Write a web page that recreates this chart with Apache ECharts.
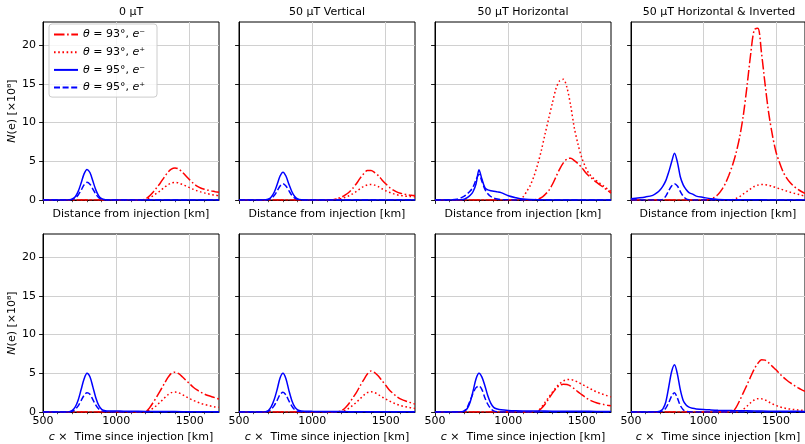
<!DOCTYPE html>
<html>
<head>
<meta charset="utf-8">
<script src="https://cdn.jsdelivr.net/npm/echarts@6/dist/echarts.min.js"></script>
<style>
  html, body { margin: 0; padding: 0; background: #fff; }
  #chart { width: 805px; height: 444px; }
</style>
</head>
<body>
<div id="chart"></div>
<script>
// Sample positions [km]: electron-bunch grid (θ = 95°) and positron/late grid (θ = 93°)
const X_E = [500, 600, 650, 680, 700, 720, 740, 760, 780, 800, 820, 840, 860, 880, 900, 925, 950, 1000, 1050, 1100, 1200, 1300, 1400, 1500, 1600, 1700];
const X_R = [500, 1000, 1025, 1050, 1075, 1100, 1125, 1150, 1175, 1200, 1225, 1250, 1275, 1300, 1325, 1350, 1375, 1400, 1425, 1450, 1475, 1500, 1525, 1550, 1575, 1600, 1625, 1650, 1675, 1700];

// Tick values
const X_TICKS = [500, 1000, 1500];
const Y_TICKS = [0, 5, 10, 15, 20];

// Labels
const NAMES = ['θ = 93°, e⁻', 'θ = 93°, e⁺', 'θ = 95°, e⁻', 'θ = 95°, e⁺'];
const TITLES = ['0 µT', '50 µT Vertical', '50 µT Horizontal', '50 µT Horizontal & Inverted'];

// ---- N(e) [×10^8] vs distance from injection ----
const DIST_ZERO_93E = [0, 0, 0, 0, 0, 0, 0, 0, 0.02, 0.15, 0.5, 1.0, 1.6, 2.2, 2.9, 3.55, 4.0, 4.15, 4.0, 3.6, 3.1, 2.6, 2.15, 1.8, 1.55, 1.4, 1.27, 1.17, 1.08, 1.0];
const DIST_ZERO_93P = [0, 0, 0, 0, 0, 0, 0, 0, 0.01, 0.08, 0.28, 0.55, 0.87, 1.2, 1.6, 1.95, 2.2, 2.28, 2.2, 2.0, 1.8, 1.58, 1.38, 1.2, 1.05, 0.92, 0.8, 0.7, 0.62, 0.55];
const DIST_ZERO_95E = [0, 0, 0, 0.03, 0.13, 0.43, 1.12, 2.2, 3.37, 3.95, 3.55, 2.45, 1.31, 0.53, 0.17, 0.03, 0, 0, 0, 0, 0, 0, 0, 0, 0, 0];
const DIST_ZERO_95P = [0, 0, 0, 0.02, 0.08, 0.25, 0.65, 1.27, 1.95, 2.28, 2.05, 1.42, 0.76, 0.3, 0.1, 0.02, 0, 0, 0, 0, 0, 0, 0, 0, 0, 0];

const DIST_VERT_93E = [0, 0, 0, 0, 0, 0, 0.03, 0.08, 0.2, 0.38, 0.65, 1.0, 1.5, 2.1, 2.8, 3.4, 3.8, 3.8, 3.55, 3.15, 2.6, 2.1, 1.65, 1.3, 1.05, 0.88, 0.77, 0.68, 0.62, 0.58];
const DIST_VERT_93P = [0, 0, 0, 0, 0, 0, 0.02, 0.05, 0.1, 0.2, 0.35, 0.55, 0.8, 1.1, 1.45, 1.75, 1.95, 2.0, 1.92, 1.72, 1.45, 1.2, 1.0, 0.82, 0.68, 0.58, 0.52, 0.47, 0.44, 0.42];
const DIST_VERT_95E = [0, 0, 0, 0.02, 0.1, 0.4, 1.0, 2.0, 3.1, 3.6, 3.1, 2.05, 1.1, 0.45, 0.15, 0.03, 0, 0, 0, 0, 0, 0, 0, 0, 0, 0];
const DIST_VERT_95P = [0, 0, 0, 0.01, 0.06, 0.23, 0.58, 1.16, 1.8, 2.1, 1.8, 1.2, 0.62, 0.25, 0.08, 0.02, 0, 0, 0, 0, 0, 0, 0, 0, 0, 0];

const DIST_HORIZ_93E = [0, 0, 0, 0, 0, 0, 0, 0, 0.03, 0.1, 0.3, 0.7, 1.2, 2.0, 3.0, 4.0, 4.8, 5.3, 5.4, 5.1, 4.7, 4.2, 3.6, 3.1, 2.7, 2.3, 1.95, 1.6, 1.25, 0.9];
const DIST_HORIZ_93P = [0, 0, 0, 0.02, 0.12, 0.4, 1.1, 1.9, 3.1, 4.6, 6.4, 8.5, 10.5, 12.5, 14.4, 15.4, 15.6, 14.5, 12.2, 9.3, 7.2, 5.5, 4.3, 3.4, 2.9, 2.5, 2.15, 1.8, 1.45, 1.1];
const DIST_HORIZ_95E = [0, 0, 0, 0.02, 0.1, 0.3, 0.6, 1.1, 2.1, 3.9, 2.7, 1.6, 1.3, 1.2, 1.12, 1.05, 0.95, 0.55, 0.3, 0.12, 0.02, 0, 0, 0, 0, 0];
const DIST_HORIZ_95P = [0, 0.02, 0.1, 0.3, 0.5, 0.8, 1.15, 1.7, 2.6, 3.3, 2.4, 1.4, 0.8, 0.45, 0.25, 0.12, 0.06, 0.02, 0, 0, 0, 0, 0, 0, 0, 0];

const DIST_INV_93E = [0, 0, 0.02, 0.15, 0.35, 0.7, 1.3, 2.1, 3.2, 4.5, 6.1, 8.2, 11.0, 14.7, 18.8, 22.0, 22.2, 19.0, 14.9, 11.2, 8.4, 6.2, 4.8, 3.6, 2.8, 2.2, 1.75, 1.4, 1.1, 0.85];
const DIST_INV_93P = [0, 0, 0, 0, 0, 0, 0, 0, 0, 0.05, 0.2, 0.45, 0.8, 1.1, 1.45, 1.75, 1.92, 2.0, 1.98, 1.9, 1.75, 1.6, 1.45, 1.3, 1.15, 1.0, 0.87, 0.75, 0.62, 0.5];
const DIST_INV_95E = [0.15, 0.4, 0.6, 0.95, 1.3, 1.8, 2.5, 3.6, 4.9, 6.05, 4.9, 3.0, 1.95, 1.35, 0.95, 0.75, 0.5, 0.33, 0.16, 0.08, 0.03, 0.02, 0.02, 0.01, 0.01, 0.01];
const DIST_INV_95P = [0, 0, 0, 0, 0, 0.1, 0.5, 1.2, 1.8, 2.1, 1.8, 1.1, 0.5, 0.15, 0.03, 0, 0, 0, 0, 0, 0, 0, 0, 0, 0, 0];

// ---- N(e) [×10^8] vs c × time since injection ----
const TIME_ZERO_93E = [0, 0, 0, 0, 0, 0, 0, 0, 0, 0.05, 0.5, 1.2, 1.95, 2.75, 3.6, 4.4, 5.0, 5.15, 4.95, 4.55, 4.1, 3.65, 3.2, 2.85, 2.55, 2.32, 2.13, 1.98, 1.83, 1.68];
const TIME_ZERO_93P = [0, 0, 0, 0, 0, 0, 0, 0, 0, 0.02, 0.2, 0.5, 0.85, 1.3, 1.75, 2.2, 2.5, 2.58, 2.48, 2.25, 1.98, 1.72, 1.5, 1.3, 1.12, 0.98, 0.85, 0.75, 0.66, 0.6];
const TIME_ZERO_95E = [0, 0, 0, 0.03, 0.2, 0.65, 1.55, 2.9, 4.25, 5.0, 4.55, 3.25, 1.85, 0.85, 0.35, 0.17, 0.13, 0.12, 0.11, 0.1, 0.08, 0.06, 0.05, 0.04, 0.03, 0.03];
const TIME_ZERO_95P = [0, 0, 0, 0.02, 0.1, 0.33, 0.8, 1.48, 2.15, 2.5, 2.3, 1.6, 0.9, 0.4, 0.14, 0.05, 0.02, 0, 0, 0, 0, 0, 0, 0, 0, 0];

const TIME_VERT_93E = [0, 0, 0, 0, 0, 0, 0, 0, 0.03, 0.2, 0.55, 1.1, 1.8, 2.5, 3.35, 4.15, 4.9, 5.3, 5.1, 4.65, 4.05, 3.45, 2.85, 2.4, 2.0, 1.7, 1.5, 1.32, 1.17, 1.02];
const TIME_VERT_93P = [0, 0, 0, 0, 0, 0, 0, 0, 0.01, 0.06, 0.22, 0.5, 0.85, 1.25, 1.7, 2.15, 2.5, 2.62, 2.5, 2.25, 1.95, 1.68, 1.42, 1.2, 1.0, 0.84, 0.72, 0.62, 0.53, 0.46];
const TIME_VERT_95E = [0, 0, 0, 0.03, 0.2, 0.7, 1.6, 2.9, 4.4, 5.0, 4.3, 2.8, 1.5, 0.65, 0.27, 0.13, 0.1, 0.08, 0.07, 0.06, 0.05, 0.04, 0.03, 0.03, 0.02, 0.02];
const TIME_VERT_95P = [0, 0, 0, 0.02, 0.1, 0.36, 0.82, 1.5, 2.25, 2.55, 2.2, 1.45, 0.75, 0.3, 0.1, 0.03, 0, 0, 0, 0, 0, 0, 0, 0, 0, 0];

const TIME_HORIZ_93E = [0, 0, 0, 0, 0, 0, 0, 0, 0, 0.08, 0.45, 1.0, 1.7, 2.4, 3.0, 3.45, 3.6, 3.55, 3.35, 3.0, 2.6, 2.25, 1.9, 1.6, 1.38, 1.2, 1.07, 0.97, 0.88, 0.82];
const TIME_HORIZ_93P = [0, 0, 0, 0, 0, 0, 0, 0, 0, 0.1, 0.6, 1.25, 1.9, 2.55, 3.15, 3.65, 4.0, 4.18, 4.2, 4.05, 3.85, 3.6, 3.35, 3.1, 2.85, 2.62, 2.42, 2.25, 2.1, 1.95];
const TIME_HORIZ_95E = [0, 0, 0, 0.02, 0.12, 0.45, 1.3, 2.75, 4.3, 5.0, 4.5, 3.4, 2.1, 1.15, 0.6, 0.38, 0.28, 0.2, 0.16, 0.14, 0.12, 0.11, 0.1, 0.09, 0.08, 0.08];
const TIME_HORIZ_95P = [0, 0, 0, 0.03, 0.15, 0.6, 1.5, 2.45, 3.15, 3.35, 2.9, 1.85, 1.0, 0.45, 0.15, 0.04, 0.01, 0, 0, 0, 0, 0, 0, 0, 0, 0];

const TIME_INV_93E = [0, 0, 0, 0, 0, 0, 0, 0, 0, 0.05, 0.6, 1.5, 2.5, 3.5, 4.55, 5.55, 6.3, 6.75, 6.7, 6.35, 5.9, 5.45, 4.95, 4.5, 4.1, 3.75, 3.45, 3.15, 2.9, 2.68];
const TIME_INV_93P = [0, 0, 0, 0, 0, 0, 0, 0, 0, 0, 0, 0.08, 0.35, 0.75, 1.2, 1.55, 1.72, 1.7, 1.55, 1.3, 1.05, 0.85, 0.67, 0.54, 0.44, 0.37, 0.31, 0.27, 0.24, 0.21];
const TIME_INV_95E = [0, 0, 0, 0.02, 0.1, 0.4, 1.3, 3.2, 5.2, 6.1, 4.9, 2.9, 1.5, 0.9, 0.62, 0.48, 0.4, 0.32, 0.27, 0.23, 0.18, 0.15, 0.12, 0.1, 0.09, 0.08];
const TIME_INV_95P = [0, 0, 0, 0, 0.02, 0.15, 0.5, 1.2, 2.05, 2.5, 1.8, 0.85, 0.3, 0.08, 0.02, 0, 0, 0, 0, 0, 0, 0, 0, 0, 0, 0];

// Panel contents: curves are ordered [93 e-, 93 e+, 95 e-, 95 e+]
const PANELS = [
  [DIST_ZERO_93E, DIST_ZERO_93P, DIST_ZERO_95E, DIST_ZERO_95P],
  [DIST_VERT_93E, DIST_VERT_93P, DIST_VERT_95E, DIST_VERT_95P],
  [DIST_HORIZ_93E, DIST_HORIZ_93P, DIST_HORIZ_95E, DIST_HORIZ_95P],
  [DIST_INV_93E, DIST_INV_93P, DIST_INV_95E, DIST_INV_95P],
  [TIME_ZERO_93E, TIME_ZERO_93P, TIME_ZERO_95E, TIME_ZERO_95P],
  [TIME_VERT_93E, TIME_VERT_93P, TIME_VERT_95E, TIME_VERT_95P],
  [TIME_HORIZ_93E, TIME_HORIZ_93P, TIME_HORIZ_95E, TIME_HORIZ_95P],
  [TIME_INV_93E, TIME_INV_93P, TIME_INV_95E, TIME_INV_95P]
];

// ---- layout & styling ----
const FONT = 'DejaVu Sans';
const PANEL_LEFT = [43, 239, 435, 631];
const ROW_TOP = [22, 234];
const PANEL_W = 176, PANEL_H = 178;
const LINE_STYLES = [
  { color: '#ff0000', type: [10.5, 2.6, 1.6, 2.6] },  // dash-dot
  { color: '#ff0000', type: [1.6, 2.6] },             // dotted
  { color: '#0000ff', type: 'solid' },
  { color: '#0000ff', type: [6, 2.6] }                 // dashed
];
const GRID_COLOR = '#d0d0d0';
const ITALIC = { fontFamily: FONT, fontSize: 11, fontStyle: 'italic', color: '#000' };

const pairs = (xs, ys) => xs.map((x, i) => [x, ys[i]]);

const grids = [], xAxes = [], yAxes = [], series = [];
PANELS.forEach((curves, p) => {
  const row = p < 4 ? 0 : 1, col = p % 4;
  grids.push({
    left: PANEL_LEFT[col], top: ROW_TOP[row], width: PANEL_W, height: PANEL_H,
    show: true, borderColor: '#000', borderWidth: 1, backgroundColor: 'transparent'
  });
  xAxes.push({
    type: 'value', gridIndex: p, min: 500, max: 1700, interval: 500,
    axisLine: { show: true, onZero: false, lineStyle: { color: '#000', width: 1 } },
    axisTick: { show: true, length: 3.9, customValues: X_TICKS, lineStyle: { color: '#000', width: 0.9 } },
    minorTick: { show: true, splitNumber: 5, length: 2.2, lineStyle: { color: '#000', width: 0.7 } },
    splitLine: { show: true, lineStyle: { color: GRID_COLOR, width: 1 } },
    axisLabel: {
      show: row === 1, customValues: X_TICKS, margin: 4,
      formatter: v => String(v),
      fontFamily: FONT, fontSize: 11, color: '#000'
    },
    name: row === 0 ? 'Distance from injection [km]' : '{it|c} ×  Time since injection [km]',
    nameLocation: 'middle', nameGap: row === 0 ? 9 : 20,
    nameTextStyle: { fontFamily: FONT, fontSize: 11, color: '#000', rich: { it: ITALIC } }
  });
  yAxes.push({
    type: 'value', gridIndex: p, min: 0, max: 23, interval: 5,
    axisLine: { show: true, onZero: false, lineStyle: { color: '#000', width: 1 } },
    axisTick: { show: true, length: 3.9, customValues: Y_TICKS, lineStyle: { color: '#000', width: 0.9 } },
    splitLine: { show: true, lineStyle: { color: GRID_COLOR, width: 1 } },
    axisLabel: {
      show: col === 0, customValues: Y_TICKS, margin: 7,
      formatter: v => String(v),
      fontFamily: FONT, fontSize: 11, color: '#000'
    },
    name: col === 0 ? '{it|N}(e) [×10⁸]' : '',
    nameLocation: 'middle', nameGap: 23,
    nameTextStyle: { fontFamily: FONT, fontSize: 11, color: '#000', rich: { it: ITALIC } }
  });
  curves.forEach((vals, k) => {
    series.push({
      name: NAMES[k], type: 'line', xAxisIndex: p, yAxisIndex: p,
      data: pairs(k < 2 ? X_R : X_E, vals),
      symbol: 'none', showSymbol: false, smooth: 0.3,
      lineStyle: { color: LINE_STYLES[k].color, width: 1.5, type: LINE_STYLES[k].type },
      itemStyle: { color: LINE_STYLES[k].color },
      z: 2 + k
    });
  });
});

const titles = TITLES.map((t, c) => ({
  type: 'text', x: PANEL_LEFT[c] + PANEL_W / 2, y: 12,
  style: { text: t, font: '11px "' + FONT + '"', fill: '#000', align: 'center', verticalAlign: 'middle' }
}));

const chart = echarts.init(document.getElementById('chart'), null, { renderer: 'canvas' });
chart.setOption({
  animation: false,
  backgroundColor: '#fff',
  grid: grids,
  xAxis: xAxes,
  yAxis: yAxes,
  series: series,
  graphic: titles,
  legend: {
    data: NAMES, orient: 'vertical', left: 49, top: 24,
    itemWidth: 24, itemHeight: 12, itemGap: 4.7,
    padding: [4, 12, 3, 4],
    backgroundColor: 'rgba(255,255,255,0.8)', borderColor: '#cccccc', borderWidth: 1, borderRadius: 3,
    selectedMode: false,
    // legend keys show the line only
    itemStyle: { color: 'transparent', borderColor: 'transparent', borderWidth: 0, opacity: 0 },
    textStyle: { fontFamily: FONT, fontSize: 11, color: '#000', lineHeight: 13, rich: { it: ITALIC } },
    formatter: n => n.replace('θ', '{it|θ}').replace(/e([⁻⁺])/, '{it|e}$1')
  }
});
</script>
</body>
</html>
